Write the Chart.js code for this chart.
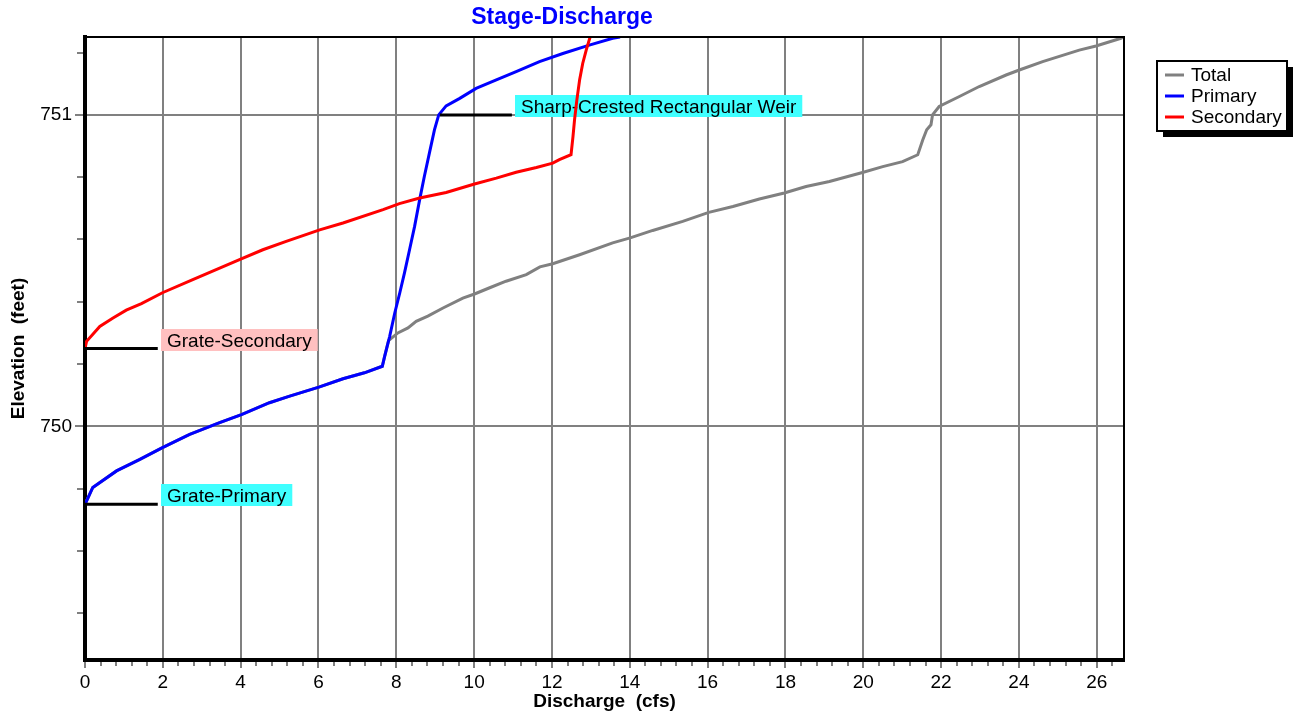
<!DOCTYPE html>
<html>
<head>
<meta charset="utf-8">
<title>Stage-Discharge</title>
<script src="https://cdn.jsdelivr.net/npm/chart.js@4.4.1/dist/chart.umd.min.js"></script>
<style>
  html, body { margin: 0; padding: 0; background: #fff; }
  canvas { display: block; }
</style>
</head>
<body>
<canvas id="chart" width="1294" height="719"></canvas>
<script>
// ==================
//  DATOS
// ==================
const totalQ = [0, 0.2, 0.81, 1.41, 1.99, 2.69, 3.46, 4.02, 4.74, 5.26, 6.01, 6.63, 7.18, 7.64, 7.70, 7.80,
  8.04, 8.30, 8.51, 8.81, 9.20, 9.71, 10.01, 10.40, 10.82, 11.34, 11.69, 12.02, 12.71, 13.56, 14.01, 14.59,
  15.36, 16.03, 16.65, 17.33, 17.97, 18.53, 19.13, 19.98, 20.50, 21.01, 21.40, 21.53, 21.63, 21.74, 21.78,
  21.95, 22.47, 22.98, 23.67, 24.01, 24.61, 25.55, 25.98, 26.62, 26.68];
const totalElev = [749.75, 749.804, 749.857, 749.894, 749.932, 749.974, 750.012, 750.038, 750.076, 750.097,
  750.126, 750.153, 750.172, 750.193, 750.225, 750.275, 750.300, 750.316, 750.337, 750.354, 750.380, 750.412,
  750.425, 750.445, 750.466, 750.487, 750.512, 750.522, 750.551, 750.589, 750.605, 750.629, 750.658, 750.687,
  750.706, 750.730, 750.749, 750.770, 750.786, 750.815, 750.834, 750.850, 750.872, 750.920, 750.952, 750.968,
  751.0, 751.027, 751.059, 751.091, 751.128, 751.144, 751.171, 751.208, 751.221, 751.246, 751.25];

const primaryQ = [0, 0.2, 0.81, 1.41, 1.99, 2.69, 3.46, 4.02, 4.74, 5.26, 6.01, 6.63, 7.18, 7.64, 7.70, 7.83,
  7.96, 8.09, 8.21, 8.34, 8.47, 8.60, 8.72, 8.85, 8.98, 9.09, 9.28, 9.63, 10.05, 10.57, 11.08, 11.68, 12.28,
  12.96, 13.56, 13.75];
const primaryElev = [749.75, 749.804, 749.857, 749.894, 749.932, 749.974, 750.012, 750.038, 750.076, 750.097,
  750.126, 750.153, 750.172, 750.193, 750.225, 750.289, 750.364, 750.429, 750.493, 750.567, 750.642, 750.728,
  750.802, 750.877, 750.952, 751.0, 751.029, 751.053, 751.085, 751.112, 751.139, 751.171, 751.197, 751.224,
  751.246, 751.25];

const secondaryQ = [0, 0.04, 0.38, 0.72, 1.06, 1.45, 1.99, 2.77, 4.0, 4.57, 5.17, 6.03, 6.63, 7.66, 8.08, 8.60,
  9.28, 10.01, 10.57, 11.08, 11.60, 12.02, 12.19, 12.49, 12.54, 12.58, 12.64, 12.71, 12.79, 12.88, 12.98];
const secondaryElev = [750.25, 750.273, 750.321, 750.348, 750.373, 750.394, 750.429, 750.471, 750.537, 750.567,
  750.594, 750.631, 750.653, 750.696, 750.715, 750.733, 750.751, 750.778, 750.797, 750.816, 750.831, 750.845,
  750.856, 750.872, 750.930, 750.984, 751.048, 751.112, 751.165, 751.208, 751.25];

// Marcas de referencia (cota de cada dispositivo)
const annotLabels = ["Grate-Primary", "Grate-Secondary", "Sharp-Crested Rectangular Weir"];
const annotElev = [749.75, 750.25, 751.0];
const annotStart = [0, 0, 9.12];
const annotEnd = [1.87, 1.87, 10.97];

// Ejes
const xMin = 0, xMax = 26.7;
const yMin = 749.25, yMax = 751.25;
const xMajorStep = 2;
const xMinorStep = 0.4;
const yTickValues = [749.4, 749.6, 749.8, 750, 750.2, 750.4, 750.6, 750.8, 751, 751.2];
const yTickLabels = [750, 751];

// ==================
//  ESTILO
// ==================
const FONT = "'Liberation Sans', Arial, Helvetica, sans-serif";
const GRID = "#808080";
const LABEL_BG = ["#40ffff", "#ffc0c0", "#40ffff"];

const xTickValues = [];
for (let i = 0; i * xMinorStep <= xMax; i++) xTickValues.push(Math.round(i * xMinorStep * 10) / 10);

const isMajorX = (v) => Math.abs(v / xMajorStep - Math.round(v / xMajorStep)) < 1e-6;
const isMajorY = (v) => yTickLabels.some((t) => Math.abs(t - v) < 1e-6);

const pts = (xs, ys) => xs.map((x, i) => ({ x, y: ys[i] }));

const series = (label, xs, ys, color, order) => ({
  label, data: pts(xs, ys), borderColor: color, backgroundColor: color,
  borderWidth: 3, pointRadius: 0, showLine: true, tension: 0, order, inLegend: true,
});

const annotSets = annotLabels.map((label, i) => ({
  label, data: pts([annotStart[i], annotEnd[i]], [annotElev[i], annotElev[i]]),
  borderColor: "#000", borderWidth: 3, pointRadius: 0, showLine: true, order: 0,
}));

// ==================
//  PLUGIN: título, leyenda, etiquetas, marcas menores
// ==================
const decorations = {
  id: "decorations",
  beforeDatasetsDraw(chart) {
    const { ctx, scales: { x, y } } = chart;
    ctx.save();
    ctx.font = `19px ${FONT}`;
    ctx.textBaseline = "alphabetic";
    annotLabels.forEach((text, i) => {
      const px = Math.round(x.getPixelForValue(annotEnd[i])) + 3;
      const py = Math.round(y.getPixelForValue(annotElev[i]));
      const w = ctx.measureText(text).width + 12;
      ctx.fillStyle = LABEL_BG[i];
      ctx.fillRect(px, py - 20, w, 22);
      ctx.fillStyle = "#000";
      ctx.fillText(text, px + 6, py - 2);
    });
    ctx.restore();
  },
  afterDraw(chart) {
    const { ctx, chartArea: a, scales: { x, y } } = chart;
    ctx.save();

    // borde superior y derecho
    ctx.strokeStyle = "#000";
    ctx.lineWidth = 2;
    ctx.beginPath();
    ctx.moveTo(a.left, a.top);
    ctx.lineTo(a.right, a.top);
    ctx.lineTo(a.right, a.bottom);
    ctx.stroke();

    // marcas menores
    ctx.strokeStyle = GRID;
    ctx.lineWidth = 2;
    ctx.beginPath();
    x.ticks.forEach((t) => {
      if (isMajorX(t.value)) return;
      const px = Math.round(x.getPixelForValue(t.value));
      ctx.moveTo(px, a.bottom + 2);
      ctx.lineTo(px, a.bottom + 6);
    });
    y.ticks.forEach((t) => {
      if (isMajorY(t.value)) return;
      const py = Math.round(y.getPixelForValue(t.value));
      ctx.moveTo(a.left - 2, py);
      ctx.lineTo(a.left - 8, py);
    });
    ctx.stroke();

    // título
    ctx.fillStyle = "#0000ff";
    ctx.font = `bold 23px ${FONT}`;
    ctx.textAlign = "center";
    ctx.textBaseline = "alphabetic";
    ctx.fillText("Stage-Discharge", 562, 24);

    // leyenda
    const lx = 1157, ly = 61, lw = 130, lh = 70;
    ctx.fillStyle = "#000";
    ctx.fillRect(lx + 6, ly + 6, lw, lh);
    ctx.fillStyle = "#fff";
    ctx.fillRect(lx, ly, lw, lh);
    ctx.strokeStyle = "#000";
    ctx.lineWidth = 2;
    ctx.strokeRect(lx, ly, lw, lh);
    ctx.font = `19px ${FONT}`;
    ctx.textAlign = "left";
    ctx.textBaseline = "middle";
    chart.data.datasets.filter((d) => d.inLegend).forEach((d, i) => {
      const yy = ly + 14 + i * 21;
      ctx.strokeStyle = d.borderColor;
      ctx.lineWidth = 3;
      ctx.beginPath();
      ctx.moveTo(lx + 8, yy);
      ctx.lineTo(lx + 27, yy);
      ctx.stroke();
      ctx.fillStyle = "#000";
      ctx.fillText(d.label, lx + 34, yy + 1);
    });

    ctx.restore();
  },
};

// ==================
//  GRÁFICO
// ==================
new Chart(document.getElementById("chart").getContext("2d"), {
  type: "scatter",
  data: {
    datasets: [
      series("Total", totalQ, totalElev, "#808080", 3),
      series("Primary", primaryQ, primaryElev, "#0000ff", 2),
      series("Secondary", secondaryQ, secondaryElev, "#ff0000", 1),
      ...annotSets,
    ],
  },
  options: {
    responsive: false,
    animation: false,
    events: [],
    layout: { padding: { left: 0, top: 37, right: 170, bottom: 0 } },
    plugins: { legend: { display: false }, title: { display: false }, tooltip: { enabled: false } },
    scales: {
      x: {
        type: "linear",
        min: xMin,
        max: xMax,
        afterBuildTicks: (s) => { s.ticks = xTickValues.map((v) => ({ value: v })); },
        afterFit: (s) => { s.height = 59; },
        ticks: {
          autoSkip: false, maxRotation: 0, padding: 3, color: "#000",
          font: { family: FONT, size: 19 },
          callback: (v) => (isMajorX(v) ? String(Math.round(v)) : ""),
        },
        grid: {
          color: (c) => (c.tick && isMajorX(c.tick.value) ? GRID : "rgba(0,0,0,0)"),
          tickColor: (c) => (c.tick && isMajorX(c.tick.value) ? GRID : "rgba(0,0,0,0)"),
          lineWidth: 2, tickWidth: 2, tickLength: 8,
        },
        border: { color: "#000", width: 4 },
        title: {
          display: true, text: "Discharge  (cfs)", color: "#000",
          font: { family: FONT, size: 19, weight: "bold" }, padding: { top: 0, bottom: 6 },
        },
      },
      y: {
        type: "linear",
        min: yMin,
        max: yMax,
        afterBuildTicks: (s) => { s.ticks = yTickValues.map((v) => ({ value: v })); },
        afterFit: (s) => { s.width = 85; },
        ticks: {
          autoSkip: false, padding: 3, color: "#000",
          font: { family: FONT, size: 19 },
          callback: (v) => (isMajorY(v) ? String(Math.round(v)) : ""),
        },
        grid: {
          color: (c) => (c.tick && isMajorY(c.tick.value) ? GRID : "rgba(0,0,0,0)"),
          tickColor: (c) => (c.tick && isMajorY(c.tick.value) ? GRID : "rgba(0,0,0,0)"),
          lineWidth: 2, tickWidth: 2, tickLength: 10,
        },
        border: { color: "#000", width: 4 },
        title: {
          display: true, text: "Elevation  (feet)", color: "#000",
          font: { family: FONT, size: 19, weight: "bold" }, padding: { top: 7, bottom: 0 },
        },
      },
    },
  },
  plugins: [decorations],
});
</script>
</body>
</html>
